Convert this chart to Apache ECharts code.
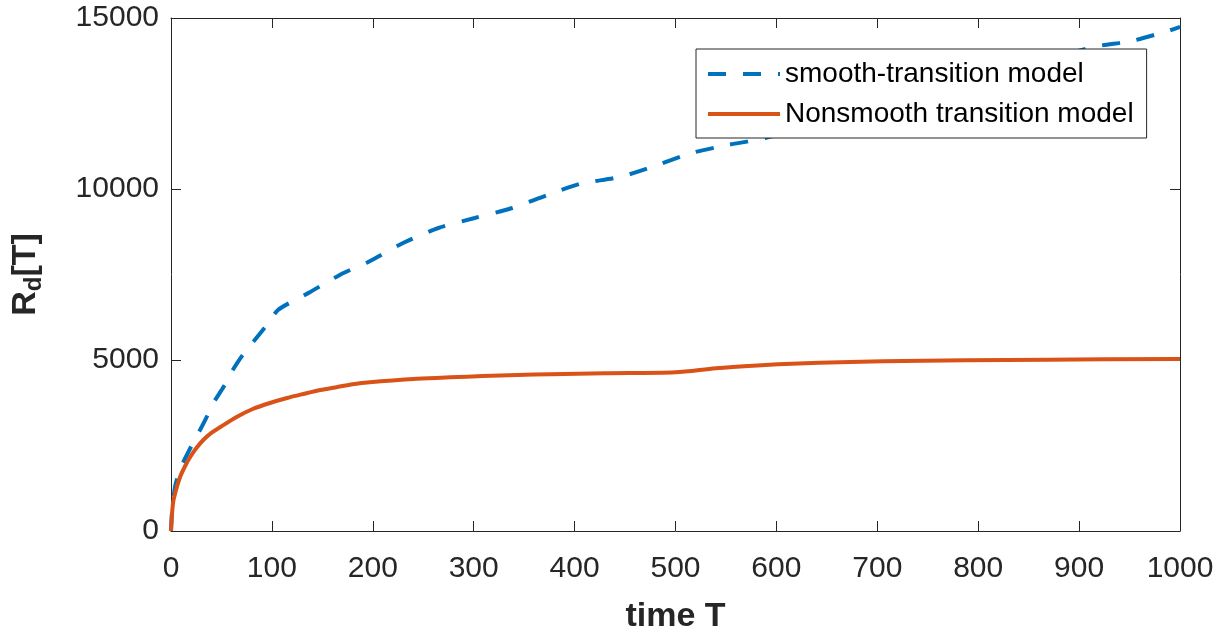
<!DOCTYPE html>
<html>
<head>
<meta charset="utf-8">
<script src="https://cdn.jsdelivr.net/npm/echarts@6/dist/echarts.min.js"></script>
<style>html,body{margin:0;padding:0;background:#fff;}#chart{width:1222px;height:628px;}</style>
</head>
<body>
<div id="chart"></div>
<script>
// ---- data ----
const seriesNames = ['smooth-transition model', 'Nonsmooth transition model'];
const xTicks = [0, 100, 200, 300, 400, 500, 600, 700, 800, 900, 1000];
const yTicks = [0, 5000, 10000, 15000];

const smoothT = [0, 1, 4, 9, 17, 26, 34, 42, 52, 60, 71, 83, 95, 106, 123, 138, 155, 171, 195, 230, 265, 301, 338, 373, 405, 445, 482, 516, 552, 589, 650, 700, 750, 800, 850, 914, 952, 988, 1000];
const smoothR = [0, 550, 1290, 1800, 2300, 2800, 3250, 3743, 4210, 4649, 5146, 5585, 6023, 6462, 6754, 6988, 7281, 7544, 7860, 8421, 8860, 9152, 9444, 9825, 10150, 10351, 10702, 11053, 11287, 11491, 11990, 12400, 12810, 13220, 13630, 14152, 14328, 14620, 14740];

const nonsmoothT = [0, 2, 5, 9, 14, 19, 25, 32, 40, 49, 65, 81, 98, 115, 131, 148, 165, 180, 197, 244, 277, 309, 343, 376, 430, 500, 540, 581, 622, 663, 705, 787, 869, 1000];
const nonsmoothR = [0, 819, 1200, 1579, 1900, 2164, 2420, 2661, 2870, 3041, 3334, 3567, 3743, 3889, 4006, 4123, 4211, 4290, 4350, 4450, 4495, 4530, 4560, 4585, 4612, 4640, 4760, 4840, 4900, 4935, 4960, 4990, 5010, 5030];

const pairs = (xs, ys) => xs.map((x, i) => [x, ys[i]]);

const axisColor = '#262626';
const font = '"Liberation Sans", Arial, Helvetica, sans-serif';

const chart = echarts.init(document.getElementById('chart'), null, {renderer: 'canvas'});
const baseX = {
  type: 'value', min: xTicks[0], max: xTicks[xTicks.length - 1], interval: 100,
  axisLine: {show: true, onZero: false, lineStyle: {color: axisColor, width: 1}},
  axisTick: {show: true, inside: true, length: 10, lineStyle: {color: axisColor, width: 1}},
  splitLine: {show: false}
};
const baseY = {
  type: 'value', min: yTicks[0], max: yTicks[yTicks.length - 1], interval: 5000,
  axisLine: {show: true, onZero: false, lineStyle: {color: axisColor, width: 1}},
  axisTick: {show: true, inside: true, length: 10, lineStyle: {color: axisColor, width: 1}},
  splitLine: {show: false}
};

chart.setOption({
  animation: false,
  backgroundColor: '#ffffff',
  textStyle: {fontFamily: font},
  grid: {left: 171, right: 42, top: 18, bottom: 97, containLabel: false, outerBoundsMode: 'none'},
  xAxis: [
    Object.assign({}, baseX, {
      position: 'bottom',
      name: 'time T', nameLocation: 'middle', nameGap: 69,
      nameTextStyle: {fontSize: 34, fontWeight: 'bold', color: axisColor, fontFamily: font},
      axisLabel: {show: true, margin: 23, fontSize: 30, color: axisColor, fontFamily: font,
        formatter: v => String(v)}
    }),
    Object.assign({}, baseX, {position: 'top', axisLabel: {show: false}})
  ],
  yAxis: [
    Object.assign({}, baseY, {
      position: 'left',
      name: '{r|R}{d|d}{r|[T]}', nameLocation: 'middle', nameGap: 125, nameRotate: 90,
      nameTextStyle: {
        color: axisColor, fontFamily: font,
        rich: {
          r: {fontSize: 34, fontWeight: 'bold', color: axisColor, fontFamily: font, lineHeight: 40, verticalAlign: 'middle'},
          d: {fontSize: 24, fontWeight: 'bold', color: axisColor, fontFamily: font, lineHeight: 22, verticalAlign: 'bottom'}
        }
      },
      axisLabel: {show: true, margin: 12, fontSize: 30, color: axisColor, fontFamily: font,
        formatter: v => String(v)}
    }),
    Object.assign({}, baseY, {position: 'right', axisLabel: {show: false}})
  ],
  legend: {
    orient: 'vertical', left: 696, top: 49,
    padding: [11, 13, 10, 10],
    itemWidth: 72, itemHeight: 28, itemGap: 12,
    itemStyle: {opacity: 0},
    lineStyle: {width: 4},
    backgroundColor: '#ffffff', borderColor: axisColor, borderWidth: 1,
    textStyle: {fontSize: 28, color: '#000000', fontFamily: font},
    data: seriesNames,
    z: 10
  },
  series: [
    {
      name: seriesNames[0], type: 'line', xAxisIndex: 0, yAxisIndex: 0,
      data: pairs(smoothT, smoothR), showSymbol: false, symbol: 'none',
      smooth: 0.25,
      lineStyle: {color: '#0072BD', width: 4, type: [18, 17], cap: 'butt'},
      itemStyle: {color: '#0072BD'}, z: 2
    },
    {
      name: seriesNames[1], type: 'line', xAxisIndex: 0, yAxisIndex: 0,
      data: pairs(nonsmoothT, nonsmoothR), showSymbol: false, symbol: 'none',
      smooth: 0.3,
      lineStyle: {color: '#D95319', width: 4, type: 'solid'},
      itemStyle: {color: '#D95319'}, z: 3
    }
  ]
});
</script>
</body>
</html>
